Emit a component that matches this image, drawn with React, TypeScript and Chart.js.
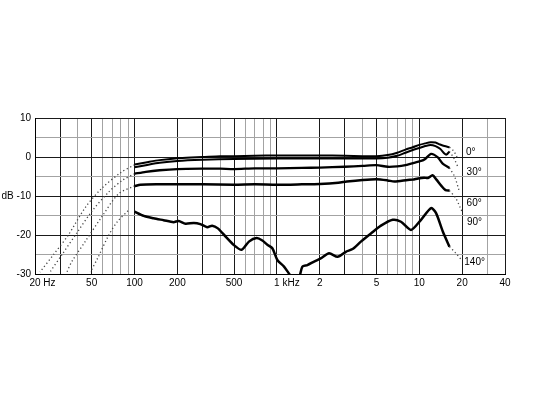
import React, { useEffect, useRef } from "react";
import { Chart, registerables } from "chart.js";

Chart.register(...registerables);

// ---------- axis definitions ----------
const FREQ_MIN = 20;
const FREQ_MAX = 40000;
const DB_MIN = -30;
const DB_MAX = 10;

const xGridValues = [
  20, 30, 40, 50, 60, 70, 80, 90, 100, 200, 300, 400, 500, 600, 700, 800, 900,
  1000, 2000, 3000, 4000, 5000, 6000, 7000, 8000, 9000, 10000, 20000, 30000, 40000,
];
const xDarkGrid = [20, 30, 50, 100, 200, 300, 500, 1000, 2000, 3000, 5000, 10000, 20000, 40000];
const xLabelValues = [20, 50, 100, 200, 500, 1000, 2000, 5000, 10000, 20000, 40000];
const xLabelTexts = ["20 Hz", "50", "100", "200", "500", "1 kHz", "2", "5", "10", "20", "40"];
const yTickValues = [-30, -25, -20, -15, -10, -5, 0, 5, 10];
const yLabelTexts: Record<string, string> = { "10": "10", "0": "0", "-10": "dB -10", "-20": "-20", "-30": "-30" };

// ---------- polar angle labels ----------
const angleNames = ["0°", "30°", "60°", "90°", "140°"];
const angleLabelFreq = [21300, 21500, 21500, 21600, 20700];
const angleLabelDb = [1.2, -3.9, -11.8, -16.8, -27.0];

// ---------- measured curves [frequency Hz, dB] ----------
const curve0: [number, number][] = [
  [100, -1.9], [120, -1.4], [150, -0.8], [200, -0.3], [250, -0.1], [300, 0.0], [400, 0.2],
  [500, 0.2], [700, 0.3], [1000, 0.4], [1500, 0.4], [2000, 0.4], [3000, 0.3], [4000, 0.2],
  [5000, 0.2], [6000, 0.5], [7000, 1.1], [8000, 1.9], [9000, 2.5], [10000, 3.1], [11000, 3.5],
  [12000, 3.8], [13000, 3.7], [14000, 3.2], [15000, 2.8], [16300, 2.5],
];
const curve30: [number, number][] = [
  [100, -2.6], [120, -2.1], [150, -1.5], [200, -1.0], [300, -0.7], [500, -0.5], [1000, -0.4],
  [2000, -0.4], [3000, -0.4], [5000, -0.4], [6000, -0.2], [7000, 0.3], [8000, 1.1], [9000, 1.8],
  [10000, 2.3], [11000, 2.8], [12000, 3.1], [13000, 2.8], [14000, 2.1], [15000, 0.9],
  [15500, 0.6], [16300, 1.4],
];
const curve60: [number, number][] = [
  [100, -4.3], [120, -3.8], [150, -3.4], [200, -3.1], [300, -3.0], [400, -3.0], [500, -3.1],
  [700, -2.9], [1000, -2.9], [1500, -2.8], [2000, -2.7], [3000, -2.5], [4000, -2.3],
  [5000, -2.1], [6000, -2.5], [7000, -2.4], [8000, -2.1], [8750, -1.7], [10300, -1.0],
  [11000, -0.5], [12100, 0.8], [13500, -0.1], [14600, -1.7], [16300, -2.8],
];
const curve90: [number, number][] = [
  [100, -7.5], [110, -7.1], [150, -7.0], [200, -7.0], [300, -7.0], [500, -7.1], [700, -7.0],
  [1000, -7.1], [1500, -7.0], [2000, -6.9], [2700, -6.6], [3100, -6.3], [4000, -5.9],
  [5000, -5.7], [6000, -6.0], [6700, -6.3], [8300, -5.9], [9000, -5.8], [9800, -5.5],
  [10800, -5.3], [11500, -5.4], [12400, -4.7], [13200, -5.8], [14300, -7.4], [15300, -8.5],
  [16300, -8.6],
];
const curve140: [number, number][] = [
  [100, -14.0], [116, -15.1], [136, -15.7], [160, -16.2], [188, -16.7], [204, -16.4],
  [228, -17.1], [261, -16.9], [290, -17.2], [324, -18.0], [351, -17.6], [385, -18.3],
  [436, -20.4], [499, -22.6], [565, -23.8], [636, -21.7], [720, -20.8], [790, -21.4],
  [857, -22.5], [929, -23.4], [1007, -26.4], [1122, -28.1], [1250, -30.5], [1330, -31.5],
  [1430, -31.0], [1510, -28.1], [1637, -27.7], [1825, -26.8], [2032, -26.0], [2327, -24.7],
  [2669, -25.6], [3049, -24.3], [3399, -23.6], [3888, -21.7], [4574, -19.6], [5381, -17.6],
  [6509, -16.1], [7439, -16.6], [8744, -18.7], [10290, -16.1], [12100, -13.1], [13120, -14.4],
  [14630, -19.1], [16290, -23.0],
];

// ---------- dotted extrapolations [frequency Hz, dB] ----------
const lowDot0: [number, number][] = [
  [100, -2.0], [80, -4.0], [59, -8.0], [45, -13], [34.3, -20], [27, -25], [21.7, -29.5],
];
const lowDot60: [number, number][] = [
  [100, -4.3], [82, -6.0], [65.8, -9.0], [50, -14], [39.3, -19.5], [31, -25], [25.5, -29.5],
];
const lowDot90: [number, number][] = [
  [100, -7.4], [77, -9.5], [59, -15.3], [45, -21.7], [36.3, -26.8], [33.5, -29.5],
];
const lowDot140: [number, number][] = [
  [90, -13.8], [76, -16.5], [66, -20], [55, -26], [49, -29.5],
];
const highDot0: [number, number][] = [[16300, 2.5], [17400, 1.6], [18400, 0.0]];
const highDot30: [number, number][] = [[16300, 1.4], [17500, -0.3], [18700, -2.6]];
const highDot60: [number, number][] = [[16300, -2.8], [17700, -5.0], [19000, -8.5]];
const highDot90: [number, number][] = [[16300, -8.6], [18000, -10.5], [19400, -13.0], [20200, -14.5]];
const highDot140: [number, number][] = [[16300, -23.0], [18000, -24.6], [19800, -26.4]];

const FONT_FAMILY = "'Liberation Sans', Arial, sans-serif";
const DARK = "#1a1a1a";
const LIGHT = "#a3a3a3";

const toXY = (pts: [number, number][]) => pts.map(([f, d]) => ({ x: f, y: d }));

const solid = (label: string, pts: [number, number][], width: number) => ({
  label,
  data: toXY(pts),
  borderColor: "#000",
  borderWidth: width,
  pointRadius: 0,
  tension: 0.25,
  fill: false,
});
const dotted = (label: string, pts: [number, number][]) => ({
  label,
  data: toXY(pts),
  borderColor: "#444",
  borderWidth: 1.3,
  borderDash: [1.2, 2.6],
  pointRadius: 0,
  tension: 0.3,
  fill: false,
});

const textPlugin = {
  id: "freqText",
  afterDraw(chart: any) {
    const { ctx, chartArea } = chart;
    const xs = chart.scales.x;
    const ys = chart.scales.y;
    ctx.save();
    ctx.font = `10px ${FONT_FAMILY}`;
    ctx.fillStyle = "#000";
    ctx.textBaseline = "top";
    ctx.textAlign = "left";
    xLabelTexts.forEach((t, i) => {
      const px = xs.getPixelForValue(xLabelValues[i]);
      const num = t.split(" ")[0];
      const w = ctx.measureText(num).width;
      ctx.fillText(t, px - w / 2, chartArea.bottom + 4);
    });
    ctx.textBaseline = "middle";
    angleNames.forEach((t, i) => {
      const px = xs.getPixelForValue(angleLabelFreq[i]);
      const py = ys.getPixelForValue(angleLabelDb[i]);
      ctx.fillText(t, px, py);
    });
    ctx.restore();
  },
};

export default function App() {
  const canvasRef = useRef<HTMLCanvasElement | null>(null);

  useEffect(() => {
    if (!canvasRef.current) return;
    const chart = new Chart(canvasRef.current, {
      type: "line",
      data: {
        datasets: [
          solid("0°", curve0, 2.0),
          solid("30°", curve30, 2.0),
          solid("60°", curve60, 2.3),
          solid("90°", curve90, 2.5),
          solid("140°", curve140, 2.5),
          dotted("0° low", lowDot0),
          dotted("60° low", lowDot60),
          dotted("90° low", lowDot90),
          dotted("140° low", lowDot140),
          dotted("0° high", highDot0),
          dotted("30° high", highDot30),
          dotted("60° high", highDot60),
          dotted("90° high", highDot90),
          dotted("140° high", highDot140),
        ] as any,
      },
      options: {
        animation: false,
        responsive: false,
        layout: { padding: { top: 118, right: 45, left: 0, bottom: 0 } },
        plugins: { legend: { display: false }, tooltip: { enabled: false } },
        scales: {
          x: {
            type: "logarithmic",
            min: FREQ_MIN,
            max: FREQ_MAX,
            afterBuildTicks: (scale: any) => {
              scale.ticks = xGridValues.map((v) => ({ value: v }));
            },
            afterFit: (scale: any) => {
              scale.height = 126;
            },
            ticks: { display: false, autoSkip: false },
            grid: {
              drawTicks: false,
              lineWidth: 1,
              color: (c: any) => (xDarkGrid.includes(c.tick?.value) ? DARK : LIGHT),
            },
            border: { display: true, color: "#000", width: 1 },
          },
          y: {
            type: "linear",
            min: DB_MIN,
            max: DB_MAX,
            afterBuildTicks: (scale: any) => {
              scale.ticks = yTickValues.map((v) => ({ value: v }));
            },
            afterFit: (scale: any) => {
              scale.width = 35;
            },
            ticks: {
              autoSkip: false,
              padding: 4,
              color: "#000",
              font: { family: FONT_FAMILY, size: 10 },
              callback: (v: any) => yLabelTexts[String(v)] ?? "",
            },
            grid: {
              drawTicks: false,
              lineWidth: 1,
              color: (c: any) => (c.tick && c.tick.value % 10 === 0 ? DARK : LIGHT),
            },
            border: { display: true, color: "#000", width: 1 },
          },
        },
      },
      plugins: [textPlugin],
    });
    return () => chart.destroy();
  }, []);

  return (
    <div style={{ position: "fixed", left: 0, top: 0, width: 550, height: 400, background: "#fff" }}>
      <canvas ref={canvasRef} width={550} height={400} style={{ display: "block" }} />
    </div>
  );
}
